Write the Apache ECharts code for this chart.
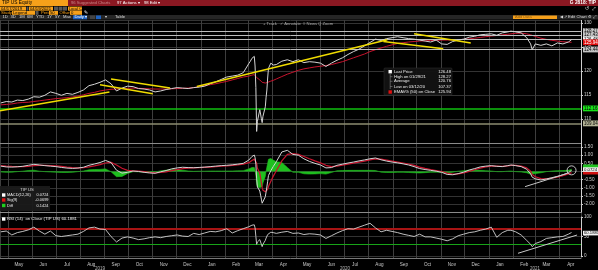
<!DOCTYPE html>
<html><head><meta charset="utf-8">
<script src="https://cdn.jsdelivr.net/npm/echarts@6/dist/echarts.min.js"></script>
<style>html,body{margin:0;padding:0;background:#000;}#c{width:598px;height:270px;}</style>
</head><body><div id="c"></div>
<script>
const dates = ['2019-04-22','2019-04-29','2019-05-06','2019-05-13','2019-05-20','2019-05-27','2019-06-03','2019-06-10','2019-06-17','2019-06-24',
'2019-07-01','2019-07-08','2019-07-15','2019-07-22','2019-07-29','2019-08-05','2019-08-12','2019-08-19','2019-08-26','2019-09-02',
'2019-09-09','2019-09-16','2019-09-23','2019-09-30','2019-10-07','2019-10-14','2019-10-21','2019-10-28','2019-11-04','2019-11-11',
'2019-11-18','2019-11-25','2019-12-02','2019-12-09','2019-12-16','2019-12-23','2019-12-30','2020-01-06','2020-01-13','2020-01-20',
'2020-01-27','2020-02-03','2020-02-10','2020-02-17','2020-02-24','2020-03-02','2020-03-04','2020-03-06','2020-03-09','2020-03-10',
'2020-03-11','2020-03-12','2020-03-13','2020-03-16','2020-03-17','2020-03-18','2020-03-19','2020-03-20','2020-03-23','2020-03-24',
'2020-03-25','2020-03-26','2020-03-27','2020-03-30','2020-04-02','2020-04-06','2020-04-13','2020-04-20','2020-04-27','2020-05-04',
'2020-05-11','2020-05-18','2020-05-25','2020-06-01','2020-06-08','2020-06-15','2020-06-22','2020-06-29','2020-07-06','2020-07-13',
'2020-07-20','2020-07-27','2020-08-03','2020-08-10','2020-08-17','2020-08-24','2020-08-31','2020-09-07','2020-09-14','2020-09-21',
'2020-09-28','2020-10-05','2020-10-12','2020-10-19','2020-10-26','2020-11-02','2020-11-09','2020-11-16','2020-11-23','2020-11-30',
'2020-12-07','2020-12-14','2020-12-21','2020-12-28','2021-01-04','2021-01-11','2021-01-18','2021-01-25','2021-01-29','2021-02-04',
'2021-02-11','2021-02-18','2021-02-23','2021-02-25','2021-03-01','2021-03-08','2021-03-15','2021-03-22','2021-03-29','2021-04-05',
'2021-04-12','2021-04-16'];
const price = [113.3,113.6,113.5,113.9,113.8,114.1,114.6,114.5,114.9,115.6,
115.3,114.9,115.3,115.1,115.5,116.0,116.9,117.2,117.6,118.1,
117.3,115.8,116.4,116.8,116.7,116.3,116.2,116.0,115.6,115.8,
116.1,116.3,116.5,116.4,116.3,116.5,116.6,116.8,117.3,117.7,
118.2,118.7,118.9,119.1,119.6,121.5,122.0,122.6,123.0,121.0,
116.5,107.37,109.5,111.9,111.0,110.0,109.2,110.5,112.5,114.5,
116.0,118.5,120.5,121.6,121.2,121.3,122.0,122.3,121.9,122.3,
121.7,121.9,121.8,121.6,120.9,121.6,122.2,122.7,123.4,124.0,
124.5,125.2,125.9,126.6,126.3,126.7,126.9,127.1,126.9,126.7,
126.6,126.4,126.2,126.0,126.4,125.6,125.5,126.1,126.4,126.6,
127.0,127.2,127.5,127.6,127.7,127.4,127.9,128.1,128.27,128.1,
127.9,126.9,125.6,124.4,125.6,125.3,125.6,125.2,125.8,125.6,
126.0,126.48];
const ema50 = [112.9,113.0,113.1,113.3,113.4,113.45,113.6,113.75,113.9,114.05,
114.2,114.3,114.4,114.55,114.75,115.0,115.3,115.5,115.8,116.0,
116.15,116.2,116.3,116.35,116.4,116.35,116.3,116.25,116.2,116.2,
116.2,116.25,116.3,116.35,116.4,116.5,116.7,116.9,117.1,117.3,
117.55,117.8,118.1,118.4,118.7,118.9,119.0,119.1,119.2,119.25,
119.1,118.6,118.3,118.1,117.9,117.75,117.6,117.5,117.45,117.45,
117.5,117.6,117.7,117.85,118.0,118.3,118.8,119.3,119.7,120.1,
120.4,120.6,120.8,120.95,121.1,121.3,121.6,121.9,122.3,122.7,
123.1,123.5,124.0,124.4,124.75,125.1,125.4,125.7,125.85,126.0,
126.1,126.2,126.25,126.3,126.35,126.4,126.4,126.45,126.5,126.55,
126.65,126.8,126.95,127.1,127.25,127.35,127.5,127.6,127.7,127.8,
127.85,127.7,127.5,127.35,127.15,126.8,126.55,126.35,126.2,126.05,
125.97,125.94];
const macd = [0.33,0.28,0.27,0.29,0.32,0.38,0.44,0.40,0.36,0.33,
0.30,0.25,0.21,0.19,0.21,0.26,0.38,0.46,0.55,0.68,
0.55,0.08,-0.10,-0.05,0.03,0.00,-0.05,-0.09,-0.11,-0.02,
0.06,0.16,0.22,0.26,0.24,0.23,0.25,0.27,0.30,0.33,
0.36,0.38,0.41,0.45,0.50,0.70,0.80,0.92,1.01,0.85,
0.45,-0.45,-0.95,-1.20,-1.45,-1.70,-1.95,-1.85,-1.55,-1.25,
-0.95,-0.60,-0.25,0.05,0.30,0.60,1.20,1.30,1.05,1.00,
0.78,0.62,0.50,0.40,0.22,0.24,0.38,0.45,0.52,0.58,
0.65,0.71,0.78,0.83,0.72,0.64,0.58,0.53,0.47,0.40,
0.30,0.18,0.12,0.07,0.02,-0.05,-0.18,-0.20,-0.13,-0.04,
0.09,0.18,0.28,0.33,0.36,0.32,0.30,0.36,0.40,0.36,
0.30,0.14,-0.15,-0.35,-0.45,-0.52,-0.46,-0.38,-0.30,-0.20,
-0.08,0.0724];
const signal = [0.36,0.33,0.31,0.30,0.30,0.32,0.36,0.38,0.37,0.36,
0.34,0.31,0.27,0.24,0.22,0.23,0.28,0.34,0.42,0.52,
0.56,0.40,0.20,0.07,0.04,0.02,-0.01,-0.05,-0.08,-0.06,
-0.02,0.05,0.12,0.18,0.21,0.22,0.23,0.25,0.27,0.30,
0.33,0.35,0.38,0.41,0.45,0.54,0.60,0.68,0.76,0.78,
0.72,0.50,0.20,-0.10,-0.40,-0.70,-0.98,-1.15,-1.25,-1.28,
-1.22,-1.10,-0.92,-0.60,-0.30,0.05,0.65,1.05,1.10,1.05,
0.92,0.78,0.65,0.53,0.38,0.30,0.33,0.39,0.45,0.51,
0.58,0.64,0.71,0.77,0.76,0.70,0.64,0.58,0.52,0.46,
0.38,0.27,0.19,0.12,0.06,0.00,-0.10,-0.16,-0.15,-0.09,
0.01,0.11,0.21,0.28,0.33,0.33,0.31,0.34,0.37,0.37,
0.33,0.22,0.02,-0.18,-0.32,-0.44,-0.45,-0.41,-0.35,-0.26,
-0.15,-0.0699];
const diff = [-0.03,-0.05,-0.04,-0.01,0.02,0.06,0.08,0.02,-0.01,-0.03,
-0.04,-0.06,-0.06,-0.05,-0.01,0.03,0.10,0.12,0.13,0.16,
-0.01,-0.32,-0.30,-0.12,-0.01,-0.02,-0.04,-0.04,-0.03,0.04,
0.08,0.11,0.10,0.08,0.03,0.01,0.02,0.02,0.03,0.03,
0.03,0.03,0.03,0.04,0.05,0.16,0.20,0.24,0.25,0.07,
-0.27,-0.80,-0.95,-1.00,-0.98,-0.95,-0.92,-0.70,-0.30,0.03,
0.27,0.50,0.75,0.80,0.70,0.60,0.55,0.25,-0.05,-0.05,
-0.14,-0.16,-0.15,-0.13,-0.16,-0.06,0.05,0.06,0.07,0.07,
0.07,0.07,0.07,0.06,-0.04,-0.06,-0.06,-0.05,-0.05,-0.06,
-0.08,-0.09,-0.07,-0.05,-0.04,-0.05,-0.08,-0.04,0.02,0.05,
0.08,0.07,0.07,0.05,0.03,-0.01,-0.01,0.02,0.03,-0.01,
-0.03,-0.08,-0.17,-0.17,-0.13,-0.08,-0.01,0.03,0.05,0.06,
0.07,0.1424];
const rsi = [62,64,54,60,63,67,74,64,56,64,
52,50,52,54,56,63,72,74,69,68,
50,36,46,49,46,42,44,47,49,47,
50,52,54,51,50,58,55,59,63,62,
65,70,59,65,70,75,77,79,80,72,
50,30,36,42,38,30,24,30,40,46,
50,55,58,61,60,58,61,63,58,59,
55,57,56,54,45,52,59,65,70,69,
74,79,84,72,62,66,63,60,56,53,
50,56,49,49,46,43,39,44,52,56,
60,62,66,69,74,48,60,66,66,62,
54,40,30,24,32,37,45,47,49,50,
56,60.1881];
const monthNames = ['Jan','Feb','Mar','Apr','May','Jun','Jul','Aug','Sep','Oct','Nov','Dec'];
const yearLabels = ['2019','2020','2021'];
const priceLevels = [128.27, 127.43, 126.48, 124.44];
const lastPrice = 126.48, highPrice = 128.27, avgPrice = 120.76, lowPrice = 107.37, emaLast = 125.94;
const supportLevel = 112.16, lowerLevel = 109.04;
const yellowLines = [
  [['2019-04-21',111.67],['2019-09-07',115.56]],
  [['2019-09-09',118.27],['2019-11-23',116.4]],
  [['2019-08-26',117.08],['2019-11-01',115.2]],
  [['2019-12-27',116.73],['2020-08-25',126.46]],
  [['2020-08-20',126.1],['2020-11-04',124.58]],
  [['2020-09-28',127.7],['2020-12-09',125.77]]
];
const macdTrend = [['2021-02-16',-0.93],['2021-04-11',-0.11]];
const rsiTrend = [['2021-02-07',7],['2021-04-23',53.8]];
const macdCircle = [['2021-04-16',0.07]];

const FONT = '"Liberation Sans Narrow", "Liberation Sans", Arial, sans-serif';
const tMin = new Date('2019-04-21T00:00:00').getTime();
const tMax = new Date('2021-04-28T00:00:00').getTime();
const DAY = 86400000;
const pair = (v) => dates.map((d,i)=>[d, v[i]]);
const GL = 0, GR = 17;

const chart = echarts.init(document.getElementById('c'), null, {renderer:'canvas'});

function T(x,y,text,o){o=o||{};return {type:'text',x:x,y:y,z:60,silent:true,style:{text:text,fill:o.fill||'#cfcfcf',fontSize:o.size||5,fontFamily:FONT,fontWeight:o.bold?'bold':'normal',align:o.align||'left',verticalAlign:'middle'}};}
function R(x,y,w,h,fill,o){o=o||{};return {type:'rect',z:o.z||55,silent:true,shape:{x:x,y:y,width:w,height:h,r:o.r||0},style:{fill:fill,stroke:o.stroke||null,lineWidth:o.lw||0.5}};}
function L(x1,y1,x2,y2,stroke,w){return {type:'line',z:58,silent:true,shape:{x1:x1,y1:y1,x2:x2,y2:y2},style:{stroke:stroke,lineWidth:w||1}};}

const OR = '#f6a01a';
const g = [];
// header
g.push(R(0,0,598,20,'#000',{z:50}));
g.push(R(0,0,68,6,OR));
g.push(T(2,3.1,'TIP US Equity',{fill:'#000',size:4.8}));
g.push(R(68,0,530,6,'#8a1822'));
g.push(T(71,3.1,'96 Suggested Charts',{fill:'#c98a8a',size:4.2}));
g.push(T(117,3.1,'97 Actions \u25BE',{fill:'#fff',size:4.2}));
g.push(T(144,3.1,'98 Edit \u25BE',{fill:'#fff',size:4.2}));
g.push(T(596,3.1,'G 2818: TIP',{fill:'#fff',size:4.8,bold:true,align:'right'}));
g.push(R(0,6.6,26,4,OR)); g.push(T(1,8.7,'04/17/2019',{fill:'#000',size:4.2}));
g.push(R(26.5,6.6,2,4,'#555'));
g.push(R(29,6.6,24,4,OR)); g.push(T(30,8.7,'04/19/2021',{fill:'#000',size:4.2}));
g.push(R(54,6.6,4,4,'#555')); g.push(R(58.5,6.6,4,4,'#555')); g.push(R(63,6.6,4,4,'#555'));
g.push(R(68,6.6,14,4,OR)); g.push(T(69,8.7,'Local CCY',{fill:'#000',size:3.8}));
g.push(T(596,8.7,'\u21BA  \u2922',{fill:'#ddd',size:4.5,align:'right'}));
g.push(T(1,13,'Study',{fill:OR,size:4.3}));
g.push(R(12,11,23,3.8,OR)); g.push(T(13,12.9,'Legend',{fill:'#000',size:4.2}));
g.push(R(35.5,11,3,3.8,'#555'));
g.push(T(41,13,'Period',{fill:OR,size:4.2}));
g.push(R(49,11,9,3.8,OR)); g.push(T(50,12.9,'50',{fill:'#000',size:4.2}));
g.push(T(59.5,13,'Offset',{fill:OR,size:4.2}));
g.push(R(70,11,12,3.8,OR)); g.push(T(71,12.9,'0',{fill:'#000',size:4.2}));
g.push(T(84,13,'\u270E',{fill:'#fff',size:4.5}));
g.push(R(0,15,598,4.6,'#262626'));
[['1D',2.5],['3D',10.5],['1M',19],['6M',27],['YTD',36],['1Y',47],['5Y',55],['Max',63]].forEach(function(b){g.push(T(b[1],17.3,b[0],{fill:'#ddd',size:4.2}));});
g.push(R(73,15.3,14,4,'#1e62c0')); g.push(T(74.5,17.3,'Daily \u25BE',{fill:'#fff',size:4.2}));
g.push(R(90,15.5,5,3.6,'#444')); g.push(R(96,15.5,5,3.6,'#1e62c0'));
g.push(T(105,17.3,'\u25BE',{fill:'#ddd',size:4.2}));
g.push(T(115,17.3,'Table',{fill:'#ddd',size:4.2}));
g.push(R(513,15.5,44,3.6,OR)); g.push(T(515,17.3,'Add Data',{fill:'#8a5a10',size:4}));
g.push(T(596,17.3,'\u25C0 \u2197 Edit Chart \u2699 \u2922',{fill:'#ddd',size:4.2,align:'right'}));
g.push(T(263,24,'+ Track',{fill:'#aaa',size:4.2}));
g.push(T(280,24,'\u2713 Annotate',{fill:'#aaa',size:4.2}));
g.push(T(303,24,'\u2261 News',{fill:'#aaa',size:4.2}));
g.push(T(318,24,'Q Zoom',{fill:'#aaa',size:4.2}));
// panel separators
g.push(L(0,143.5,581,143.5,'#8a8a8a',1));
g.push(L(0,212.5,581,212.5,'#8a8a8a',1));
// price legend
g.push(R(384,68,68,27,'rgba(18,18,18,0.95)',{stroke:'#333',r:1}));
g.push(R(388.5,70,3.4,3.4,'#fff'));
g.push(L(390.2,74,390.2,89,'#888',0.6));
g.push(L(390.2,76.7,392.5,76.7,'#888',0.6));
g.push(L(390.2,81.3,392.5,81.3,'#888',0.6));
g.push(L(390.2,86.5,392.5,86.5,'#888',0.6));
g.push(R(388.5,90.3,3.4,3.4,'#e01010'));
const legRows = [['Last Price',lastPrice,71.7],['High on 01/29/21',highPrice,76.7],['Average',avgPrice,81.3],['Low on 03/12/20',lowPrice,86.5],['EMAVG (50) on Close',emaLast,92]];
legRows.forEach(function(r){g.push(T(394,r[2],r[0],{fill:'#eee',size:4.2}));g.push(T(451,r[2],r[1].toFixed(2),{fill:'#eee',size:4.2,align:'right'}));});
// MACD legend
g.push(R(0,186,50,25,'rgba(26,26,26,0.95)'));
g.push(T(27,189.5,'TIP US',{fill:'#ddd',size:4.2,align:'center'}));
[['MACD(12,26)',macd[macd.length-1].toFixed(4),195,'#fff'],['Sig(9)',signal[signal.length-1].toFixed(4),200,'#e01010'],['Diff',diff[diff.length-1].toFixed(4),205.5,'#1fd01f']].forEach(function(r){
  g.push(R(2,r[2]-1.7,3.4,3.4,r[3])); g.push(T(7,r[2],r[0],{fill:'#eee',size:3.9})); g.push(T(48.5,r[2],r[1],{fill:'#eee',size:3.9,align:'right'}));
});
// RSI legend
g.push(R(2,217.3,3.4,3.4,'#fff'));
g.push(T(7,219,'RSI (14)  on Close (TIP US) ' + rsi[rsi.length-1].toFixed(4),{fill:'#eee',size:4.3}));
// right value boxes
g.push(R(583,164.5,15,3.5,'#1fc01f'));
g.push(R(583,171.5,15,3,'#d01010'));
g.push(R(583,167.3,15,4.6,'#f2f2f2')); g.push(T(584,169.7,macd[macd.length-1].toFixed(4),{fill:'#000',size:4.3}));
g.push(R(583,230.8,15,4.6,'#f2f2f2')); g.push(T(584,233.2,rsi[rsi.length-1].toFixed(4),{fill:'#000',size:4.2}));
// year labels
[[100,yearLabels[0]],[345,yearLabels[1]],[535,yearLabels[2]]].forEach(function(y){g.push(T(y[0],268.3,y[1],{fill:'#bbb',size:4.5,align:'center'}));});

const lblBox = function(bg, fg){return {show:true,position:'end',distance:2,fontSize:4.5,fontFamily:FONT,color:fg||'#000',backgroundColor:bg,padding:[0.6,1,0.2,1],formatter:function(p){return Number(p.value).toFixed(2);}};};

const hiddenX = function(i){return {type:'time',gridIndex:i,min:tMin,max:tMax,show:false};};

const series = [
  {type:'line',xAxisIndex:0,yAxisIndex:0,data:[],silent:true},
  {type:'line',name:'price',xAxisIndex:1,yAxisIndex:1,data:pair(price),showSymbol:false,lineStyle:{color:'#d4d4d4',width:1},z:5,
   markLine:{silent:true,symbol:['none','none'],animation:false,
     data:[
       {yAxis:priceLevels[0],lineStyle:{color:'#bdbdbd',width:1,type:'solid'},label:lblBox('#c4c4c4')},
       {yAxis:priceLevels[1],lineStyle:{color:'#bdbdbd',width:1,type:'solid'},label:lblBox('#c4c4c4')},
       {yAxis:priceLevels[2],lineStyle:{color:'#bdbdbd',width:1,type:'solid'},label:lblBox('#f4f4f4')},
       {yAxis:priceLevels[3],lineStyle:{color:'#bdbdbd',width:1,type:'solid'},label:lblBox('#c4c4c4')},
       {yAxis:supportLevel,lineStyle:{color:'#0fc00f',width:1.5,type:'solid'},label:lblBox('#19e019')},
       {yAxis:lowerLevel,lineStyle:{color:'#8c8c70',width:1.5,type:'solid'},label:lblBox('#b4b496')}
     ]}},
  {type:'line',name:'ema',xAxisIndex:1,yAxisIndex:1,data:pair(ema50),showSymbol:false,lineStyle:{color:'#c8142e',width:1},z:4,
   markLine:{silent:true,symbol:['none','none'],animation:false,data:[{yAxis:emaLast,lineStyle:{color:'rgba(0,0,0,0)',width:0},label:lblBox('#e01010','#fff')}]}}
];
yellowLines.forEach(function(l){series.push({type:'line',xAxisIndex:1,yAxisIndex:1,data:l,showSymbol:false,lineStyle:{color:'#f0dc00',width:1.5},z:6,silent:true});});
series.push({type:'line',name:'diff',xAxisIndex:2,yAxisIndex:2,data:pair(diff),showSymbol:false,lineStyle:{color:'#1fbf1f',width:0.6},areaStyle:{color:'#1fbf1f',opacity:1},z:3});
series.push({type:'line',name:'sig',xAxisIndex:2,yAxisIndex:2,data:pair(signal),showSymbol:false,lineStyle:{color:'#c8142e',width:1.2},z:4});
series.push({type:'line',name:'macd',xAxisIndex:2,yAxisIndex:2,data:pair(macd),showSymbol:false,lineStyle:{color:'#d4d4d4',width:1},z:5});
series.push({type:'line',xAxisIndex:2,yAxisIndex:2,data:macdTrend,showSymbol:false,lineStyle:{color:'#c8c8c8',width:1},z:6,silent:true});
series.push({type:'scatter',xAxisIndex:2,yAxisIndex:2,data:macdCircle,symbol:'circle',symbolSize:9,itemStyle:{color:'rgba(0,0,0,0)',borderColor:'#f0f0f0',borderWidth:1},z:7,silent:true});
series.push({type:'line',name:'rsi',xAxisIndex:3,yAxisIndex:3,data:pair(rsi),showSymbol:false,lineStyle:{color:'#d4d4d4',width:0.9},z:5,
  markLine:{silent:true,symbol:['none','none'],animation:false,label:{show:false},data:[
    {yAxis:70,lineStyle:{color:'#a81414',width:2,type:'solid'}},
    {yAxis:30,lineStyle:{color:'#18a418',width:1,type:'solid'}}]}});
series.push({type:'line',xAxisIndex:3,yAxisIndex:3,data:rsiTrend,showSymbol:false,lineStyle:{color:'#c8c8c8',width:1},z:6,silent:true});

const axLbl = {fontSize:4.6,fontFamily:FONT,color:'#cfcfcf',margin:3};
const option = {
  backgroundColor:'#000',
  animation:false,
  grid:[
    {left:GL,right:GR,top:20,height:238},
    {left:GL,right:GR,top:20.4,height:122.4},
    {left:GL,right:GR,top:143,height:69.2},
    {left:GL,right:GR,top:217,height:39}
  ],
  xAxis:[
    {type:'time',gridIndex:0,min:tMin,max:tMax,splitNumber:25,minInterval:28*DAY,maxInterval:31*DAY,
     axisLine:{show:true,lineStyle:{color:'#777'}},axisTick:{show:false},
     axisLabel:{fontSize:4.6,fontFamily:FONT,color:'#c8c8c8',margin:4,hideOverlap:false,align:'center',padding:[0,0,0,22],
       formatter:function(v){return monthNames[new Date(v).getMonth()];}},
     splitLine:{show:true,lineStyle:{color:'#3e3e3e',width:1}}},
    hiddenX(1),hiddenX(2),hiddenX(3)
  ],
  yAxis:[
    {type:'value',gridIndex:0,min:0,max:1,show:false},
    {type:'value',gridIndex:1,position:'right',min:105,max:130.5,interval:5,
     axisLine:{show:true,lineStyle:{color:'#cfcfcf'}},axisTick:{show:true,length:2,lineStyle:{color:'#cfcfcf'}},
     axisLabel:Object.assign({},axLbl,{showMinLabel:false}),splitLine:{show:true,lineStyle:{color:'#333'}}},
    {type:'value',gridIndex:2,position:'right',min:-2.5,max:1.75,interval:0.5,
     axisLine:{show:true,lineStyle:{color:'#cfcfcf'}},axisTick:{show:true,length:2,lineStyle:{color:'#cfcfcf'}},
     axisLabel:Object.assign({},axLbl,{showMinLabel:false,showMaxLabel:false,formatter:function(v){return Math.abs(v)<1e-9?'':v.toFixed(2);}}),
     splitLine:{show:true,lineStyle:{color:'#333'}}},
    {type:'value',gridIndex:3,position:'right',min:0,max:100,interval:50,
     axisLine:{show:true,lineStyle:{color:'#cfcfcf'}},axisTick:{show:true,length:2,lineStyle:{color:'#cfcfcf'}},
     axisLabel:axLbl,splitLine:{show:true,lineStyle:{color:'#333'}}}
  ],
  graphic:{elements:g},
  series:series
};
chart.setOption(option);
</script></body></html>
